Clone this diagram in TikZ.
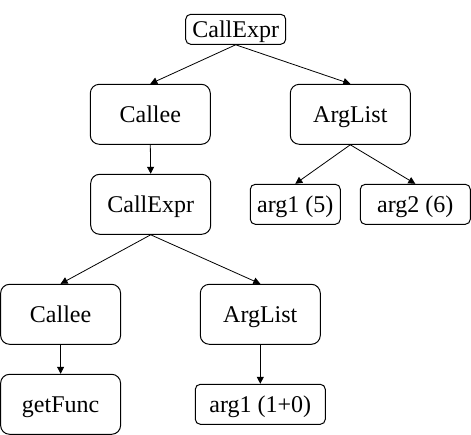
\documentclass[tikz,border=0pt]{standalone}
\usepackage{fontspec}
\setmainfont{Liberation Serif}
\usetikzlibrary{arrows.meta}
\begin{document}
\begin{tikzpicture}[x=1pt,y=-1pt,
  box/.style={draw, line width=1pt, rounded corners=9pt, inner sep=0pt,
    minimum width=120pt, minimum height=60pt,
    text height=15.9pt, text depth=0pt, font=\fontsize{24}{28}\selectfont},
  sbox/.style={box, rounded corners=5pt, minimum height=40pt},
  arr/.style={-{Triangle[length=7pt,width=7pt]}, line width=0.8pt}]
\useasboundingbox (0,0) rectangle (471,435);
\node[sbox, minimum width=100pt, minimum height=30pt] (top) at (235.7,29.3) {CallExpr};
\node[box] (calleeA) at (150.3,114.3) {Callee};
\node[box] (arglistA) at (350.3,114.3) {ArgList};
\node[box] (callexprB) at (150.7,204.3) {CallExpr};
\node[sbox, minimum width=90pt] (argfive) at (295.3,204.3) {arg1 (5)};
\node[sbox, minimum width=110pt] (argsix) at (415.3,204.3) {arg2 (6)};
\node[box] (calleeC) at (60.6,314.3) {Callee};
\node[box] (arglistC) at (260.3,314.3) {ArgList};
\node[box] (getfunc) at (60.6,404.3) {getFunc};
\node[sbox, minimum width=130pt] (argzero) at (260.3,404.3) {arg1 (1+0)};
\draw[arr] (top.south) -- (calleeA.north);
\draw[arr] (top.south) -- (arglistA.north);
\draw[arr] (calleeA.south) -- (callexprB.north);
\draw[arr] (arglistA.south) -- (argfive.north);
\draw[arr] (arglistA.south) -- (argsix.north);
\draw[arr] (callexprB.south) -- (calleeC.north);
\draw[arr] (callexprB.south) -- (arglistC.north);
\draw[arr] (calleeC.south) -- (getfunc.north);
\draw[arr] (arglistC.south) -- (argzero.north);
\end{tikzpicture}
\end{document}
